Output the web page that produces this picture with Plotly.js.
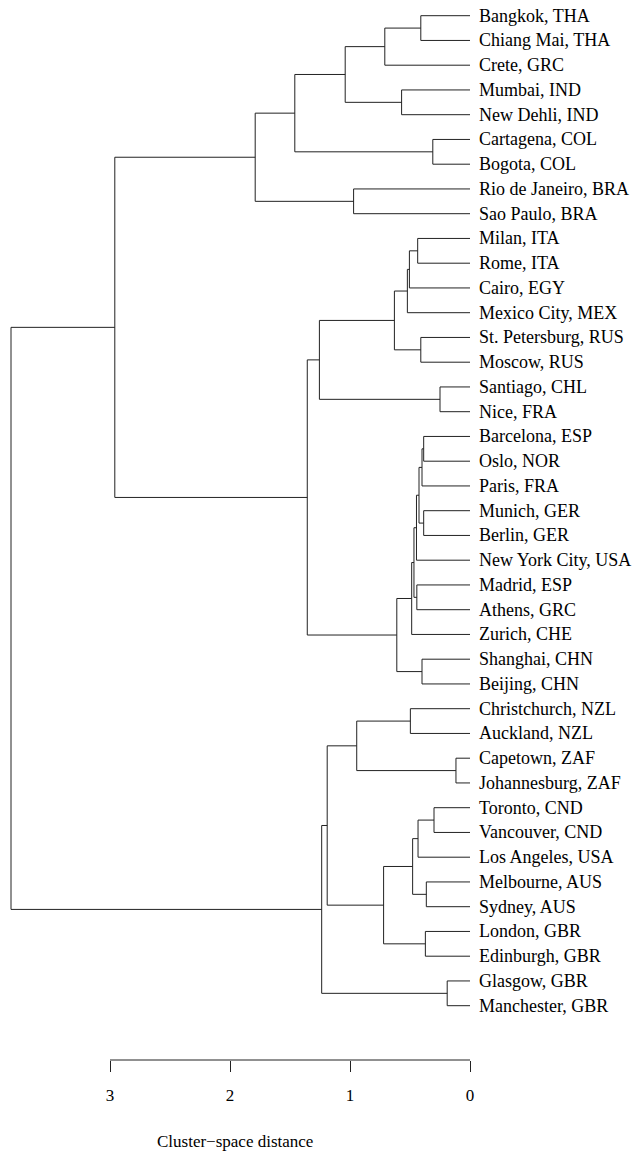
<!DOCTYPE html>
<html>
<head>
<meta charset="utf-8">
<script src="https://cdn.plot.ly/plotly-3.0.1.min.js"></script>
<style>
html,body{margin:0;padding:0;background:#fff;}
#chart{width:632px;height:1151px;}
</style>
</head>
<body>
<div id="chart"></div>
<script>
// Leaf labels in display order (top to bottom)
const leafLabels = [
  "Bangkok, THA", "Chiang Mai, THA", "Crete, GRC", "Mumbai, IND", "New Dehli, IND",
  "Cartagena, COL", "Bogota, COL", "Rio de Janeiro, BRA", "Sao Paulo, BRA",
  "Milan, ITA", "Rome, ITA", "Cairo, EGY", "Mexico City, MEX", "St. Petersburg, RUS",
  "Moscow, RUS", "Santiago, CHL", "Nice, FRA",
  "Barcelona, ESP", "Oslo, NOR", "Paris, FRA", "Munich, GER", "Berlin, GER",
  "New York City, USA", "Madrid, ESP", "Athens, GRC", "Zurich, CHE",
  "Shanghai, CHN", "Beijing, CHN",
  "Christchurch, NZL", "Auckland, NZL", "Capetown, ZAF", "Johannesburg, ZAF",
  "Toronto, CND", "Vancouver, CND", "Los Angeles, USA", "Melbourne, AUS",
  "Sydney, AUS", "London, GBR", "Edinburgh, GBR", "Glasgow, GBR", "Manchester, GBR"
];

// hclust-style merge table: negative = leaf (1-based), positive = earlier merge step
const mergeLeft  = [-31,-40,-16,-33,-6,-36,-38,-18,-21, 8,-27,-1,-14,10, 4,-10,-24,14,18,15,19,-29,16,23,-4,21,24,12,20,22,-8,28,30,33,27,35,32,37,38,39];
const mergeRight = [-32,-41,-17,-34,-7,-37,-39,-19,-22,-20,-28,-2,-15, 9,-35,-11,-25,-23,17, 6,-26,-30,-12,-13,-5,11,13,-3, 7, 1,-9,25,29, 2, 3,26, 5,31,36,34];
const mergeHeight = [0.117,0.19,0.25,0.30,0.31,0.364,0.372,0.386,0.386,0.40,0.40,0.41,0.41,0.425,0.433,0.436,0.443,0.446,0.467,0.478,0.486,0.497,0.505,0.522,0.57,0.61,0.63,0.71,0.72,0.944,0.97,1.04,1.19,1.236,1.255,1.356,1.46,1.79,2.96,3.825];

// Axis ticks
const tickValues = [3, 2, 1, 0];
const tickLabels = ["3", "2", "1", "0"];
const axisTitle = "Cluster\u2212space distance";

// Build segments
const nodeY = [], nodeH = [];
function pos(ref){
  if (ref < 0) return {y: -ref - 1, h: 0};
  return {y: nodeY[ref - 1], h: nodeH[ref - 1]};
}
const xs = [], ys = [];
for (let k = 0; k < mergeHeight.length; k++) {
  const a = pos(mergeLeft[k]), b = pos(mergeRight[k]);
  const h = mergeHeight[k];
  xs.push(a.h, h, h, b.h, null);
  ys.push(a.y, a.y, b.y, b.y, null);
  nodeY.push((a.y + b.y) / 2);
  nodeH.push(h);
}

const font = "'Liberation Serif', 'Times New Roman', serif";
const annotations = leafLabels.map((t, i) => ({
  x: 0, y: i, xref: 'x', yref: 'y', text: t, showarrow: false,
  xanchor: 'left', yanchor: 'middle', xshift: 7,
  font: {family: font, size: 18, color: '#000'}
}));
annotations.push({
  x: 235 / 632, y: -(1141 - 1060) / 1060, xref: 'paper', yref: 'paper',
  text: axisTitle, showarrow: false, xanchor: 'center', yanchor: 'middle',
  font: {family: font, size: 17, color: '#000'}
});

const trace = {
  x: xs, y: ys, type: 'scatter', mode: 'lines',
  line: {color: '#222', width: 1}, hoverinfo: 'skip', showlegend: false
};

const layout = {
  width: 632, height: 1151,
  margin: {l: 0, r: 0, t: 0, b: 91},
  paper_bgcolor: '#fff', plot_bgcolor: '#fff',
  xaxis: {
    range: [470 / 120, -162 / 120],
    showgrid: false, zeroline: false, showline: false,
    ticks: 'outside', ticklen: 11, tickwidth: 1, tickcolor: '#222',
    tickvals: tickValues, ticktext: tickLabels,
    tickfont: {family: font, size: 17, color: '#000'},
    ticklabelstandoff: 9
  },
  yaxis: {
    range: [(1060 - 15.7) / 24.75, -15.7 / 24.75],
    showgrid: false, zeroline: false, showline: false,
    showticklabels: false, ticks: ''
  },
  shapes: [{
    type: 'line', xref: 'x', yref: 'paper',
    x0: tickValues[0], x1: tickValues[tickValues.length - 1], y0: 0, y1: 0,
    line: {color: '#222', width: 1}
  }],
  annotations: annotations
};

Plotly.newPlot('chart', [trace], layout, {staticPlot: true});
</script>
</body>
</html>
